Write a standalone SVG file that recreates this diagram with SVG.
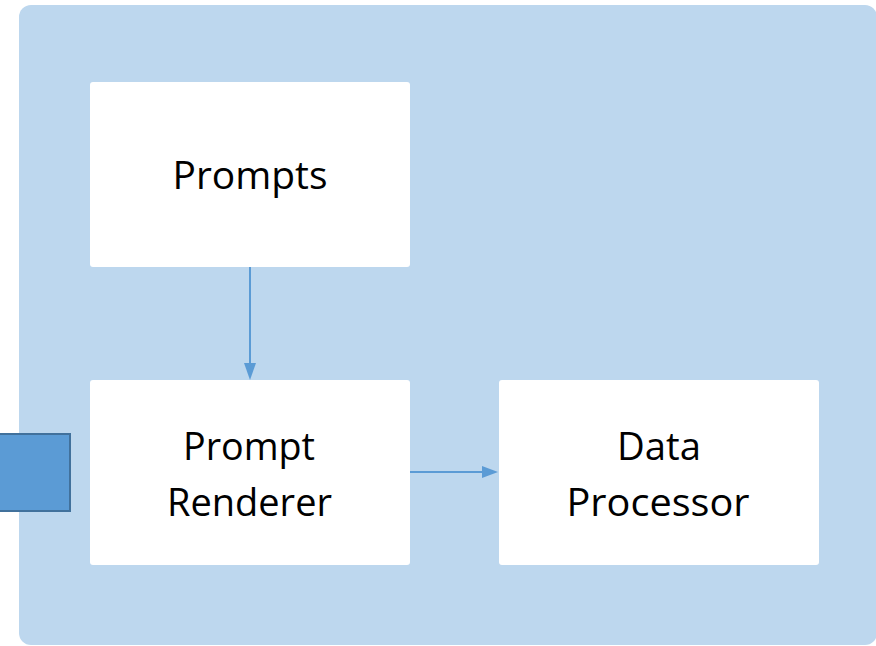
<svg xmlns="http://www.w3.org/2000/svg" width="876" height="646" viewBox="0 0 876 646">
  <style>
    .node { fill: #FFFFFF; }
    .label { font-family: "Open Sans", "Liberation Sans", sans-serif; font-size: 39px; fill: #000000; text-anchor: middle; }
    .conn { stroke: #5B9BD5; stroke-width: 2; fill: none; }
  </style>

  <!-- container panel -->
  <rect id="container" x="19" y="5" width="858" height="640" rx="12" ry="12" fill="#BDD7EE"/>

  <!-- side port -->
  <g id="port">
    <rect x="-2" y="434" width="72" height="77" fill="#5B9BD5" stroke="#41719C" stroke-width="2"/>
  </g>

  <g id="prompts">
    <rect class="node" x="90" y="82" width="320" height="185" rx="3"/>
    <text class="label" x="250" y="189" textLength="155" lengthAdjust="spacingAndGlyphs">Prompts</text>
  </g>

  <g id="prompt-renderer">
    <rect class="node" x="90" y="380" width="320" height="185" rx="3"/>
    <text class="label" x="249" y="460" textLength="132" lengthAdjust="spacingAndGlyphs">Prompt</text>
    <text class="label" x="249.5" y="516" textLength="165" lengthAdjust="spacingAndGlyphs">Renderer</text>
  </g>

  <g id="data-processor">
    <rect class="node" x="499" y="380" width="320" height="185" rx="3"/>
    <text class="label" x="659" y="460" textLength="84" lengthAdjust="spacingAndGlyphs">Data</text>
    <text class="label" x="658" y="516" textLength="183" lengthAdjust="spacingAndGlyphs">Processor</text>
  </g>

  <g id="connectors">
    <path class="conn" d="M250,267 L250,364"/>
    <path d="M244,363 L256,363 L250,380 Z" fill="#5B9BD5"/>
    <path class="conn" d="M410,472 L483,472"/>
    <path d="M482,466 L482,478 L498,472 Z" fill="#5B9BD5"/>
  </g>
</svg>
